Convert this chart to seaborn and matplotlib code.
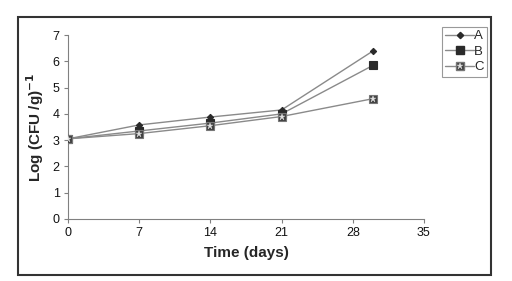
import matplotlib
matplotlib.use("Agg")
import matplotlib.pyplot as plt
import pandas as pd
import seaborn as sns
from matplotlib.patches import Rectangle
from matplotlib.lines import Line2D

# Data
days = [0, 7, 14, 21, 30]
series_a = [3.05, 3.58, 3.88, 4.15, 6.40]
series_b = [3.05, 3.35, 3.65, 4.00, 5.85]
series_c = [3.05, 3.25, 3.55, 3.90, 4.58]
x_ticks = [0, 7, 14, 21, 28, 35]
y_ticks = [0, 1, 2, 3, 4, 5, 6, 7]

df = pd.DataFrame({"day": days * 3,
                   "value": series_a + series_b + series_c,
                   "group": ["A"] * 5 + ["B"] * 5 + ["C"] * 5})

sns.set_style("white")
plt.rcParams["font.family"] = ["Liberation Sans", "DejaVu Sans"]

fig = plt.figure(figsize=(5.12, 2.81), dpi=100)
ax = fig.add_axes([0.133, 0.221, 0.695, 0.654])

line_col = "#8a8a8a"
mark_col = "#2a2a2a"
c_face = "#404040"
star_col = "#e0e0e0"
sizes = {"A": 3.2, "B": 6.0, "C": 5.5}

sns.lineplot(data=df, x="day", y="value", hue="group",
             palette={"A": line_col, "B": line_col, "C": line_col},
             style="group", markers={"A": "D", "B": "s", "C": "s"},
             dashes=False, ax=ax, linewidth=1.0, legend=False,
             markeredgecolor=mark_col)

# restyle markers
for ln, g in zip(ax.lines, ["A", "B", "C"]):
    ln.set_markersize(sizes[g])
    ln.set_markerfacecolor(mark_col if g != "C" else c_face)
    ln.set_markeredgecolor(mark_col if g != "C" else "#777777")
    ln.set_markeredgewidth(0.8)
    ln.set_zorder(3)

# asterisk overlay on C markers
c_df = df[df["group"] == "C"]
ax.plot(c_df["day"], c_df["value"], linestyle="none", marker="*",
        markersize=4.5, markerfacecolor=star_col, markeredgecolor=star_col,
        markeredgewidth=0.3, zorder=4)

ax.set_xlim(0, 35)
ax.set_ylim(0, 7)
ax.set_xticks(x_ticks)
ax.set_yticks(y_ticks)
ax.tick_params(axis="both", labelsize=9, length=3, direction="out",
               color="#808080", bottom=True, left=True, pad=3,
               labelcolor="#111111")
for side in ["top", "right"]:
    ax.spines[side].set_visible(False)
for side in ["left", "bottom"]:
    ax.spines[side].set_color("#808080")
    ax.spines[side].set_linewidth(0.8)

ax.set_xlabel("Time (days)", fontsize=11, fontweight="bold", labelpad=5)
ax.set_ylabel("Log (CFU /g)$^{\\mathbf{-1}}$", fontsize=11, fontweight="bold", labelpad=5)

# legend
handles = [
    Line2D([], [], color=line_col, lw=1, marker="D", ms=3.2, mfc=mark_col, mec=mark_col),
    Line2D([], [], color=line_col, lw=1, marker="s", ms=6, mfc=mark_col, mec=mark_col),
    (Line2D([], [], color=line_col, lw=1, marker="s", ms=5.5, mfc=c_face, mec="#777777"),
     Line2D([], [], ls="none", marker="*", ms=4.5, mfc=star_col, mec=star_col, mew=0.3)),
]
leg = fig.legend(handles, ["A", "B", "C"], loc="upper left",
                 bbox_to_anchor=(0.863, 0.905), fontsize=9.5, frameon=True,
                 fancybox=False, handlelength=2.2, handletextpad=0.0,
                 borderpad=0.25, labelspacing=0.25, borderaxespad=0)
leg.get_frame().set_edgecolor("#808080")
leg.get_frame().set_linewidth(0.8)

# outer frame
fig.patches.append(Rectangle((0.035, 0.021), 0.924, 0.919, transform=fig.transFigure,
                             fill=False, edgecolor="#333333", linewidth=1.5))

fig.savefig("out.png", dpi=100)
